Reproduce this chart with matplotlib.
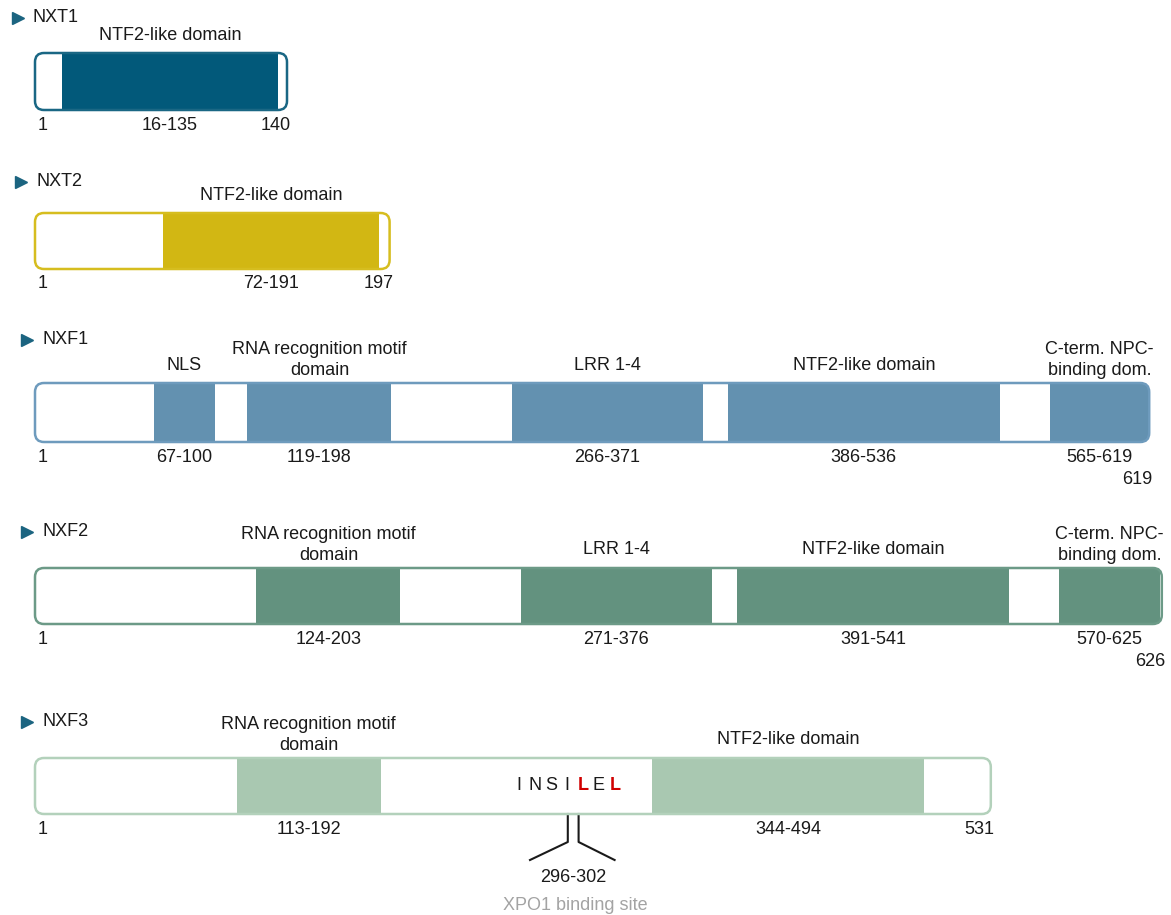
import numpy as np
from matplotlib import pyplot as plt
from matplotlib.patches import FancyBboxPatch, Rectangle

plt.rcParams["font.family"] = ["Liberation Sans", "DejaVu Sans"]

# Protein data (residue numbers)
PROTEINS = ["NXT1", "NXT2", "NXF1", "NXF2", "NXF3"]
LENGTHS = [140, 197, 619, 626, 531]
COLORS = ["#02597a", "#d2b713", "#6391b0", "#63927f", "#a9c8b1"]
EDGE_COLORS = ["#1a6784", "#d6bd1f", "#6e9bbd", "#6c9a87", "#b3d1bb"]

NXT1_DOMAINS = [(16, 135)]
NXT2_DOMAINS = [(72, 191)]
NXF1_DOMAINS = [(67, 100), (119, 198), (266, 371), (386, 536), (565, 619)]
NXF2_DOMAINS = [(124, 203), (271, 376), (391, 541), (570, 625)]
NXF3_DOMAINS = [(113, 192), (344, 494)]
DOMAINS = [NXT1_DOMAINS, NXT2_DOMAINS, NXF1_DOMAINS, NXF2_DOMAINS, NXF3_DOMAINS]

RRM = "RNA recognition motif\ndomain"
NTF2 = "NTF2-like domain"
CTERM = "C-term. NPC-\nbinding dom."
DOMAIN_NAMES = [
    [NTF2],
    [NTF2],
    ["NLS", RRM, "LRR 1-4", NTF2, CTERM],
    [RRM, "LRR 1-4", NTF2, CTERM],
    [RRM, NTF2],
]

XPO1_SITE = (296, 302)
XPO1_MOTIF = "INSILEL"
XPO1_KEY = [4, 6]  # highlighted leucines

# Layout (pixels, y grows downward)
PX_PER_RES = 1.8
X0_PX = 35
ROW_TOP = [53, 213, 383, 568, 758]
ROW_H = [57, 56, 59, 56, 56]
NAME_Y = [18, 182, 340, 532, 722]
NAME_X = [12, 15, 21, 21, 21]
LENGTH_ROW = [0, 0, 1, 1, 0]  # length label on second line when crowded

INK = "#1a1a1a"
ARROW = "#1b6480"
GREY = "#a3a3a3"
FS = 13


def res(px):
    return (px - X0_PX) / PX_PER_RES


fig = plt.figure(figsize=(11.71, 9.15), dpi=100)
ax = fig.add_axes([0, 0, 1, 1])
ax.set_xlim(res(0), res(1171))
ax.set_ylim(915, 0)
ax.axis("off")

for i, name in enumerate(PROTEINS):
    top, h, length = ROW_TOP[i], ROW_H[i], LENGTHS[i]

    # protein name with marker
    ax.plot([res(NAME_X[i] + 6)], [NAME_Y[i]], marker=">", ms=9, color=ARROW,
            mec=ARROW, ls="none")
    ax.text(res(NAME_X[i] + 21), NAME_Y[i], name, fontsize=FS, color=INK,
            ha="left", va="center")

    box = FancyBboxPatch((0, top), length, h,
                         boxstyle="round,pad=0,rounding_size=5",
                         mutation_aspect=PX_PER_RES, facecolor="white",
                         edgecolor="none", zorder=1)
    ax.add_patch(box)
    for (a, b), label in zip(DOMAINS[i], DOMAIN_NAMES[i]):
        rect = Rectangle((a - 1, top), b - a + 1, h, facecolor=COLORS[i],
                         edgecolor="none", zorder=2)
        ax.add_patch(rect)
        rect.set_clip_path(box)
        mid = (a - 1 + b) / 2
        if "\n" in label:
            ax.text(mid, top - 23, label, fontsize=FS, color=INK, ha="center",
                    va="center", linespacing=1.25)
        else:
            ax.text(mid, top - 18, label, fontsize=FS, color=INK, ha="center",
                    va="center")
        ax.text(mid, top + h + 15, f"{a}-{b}", fontsize=FS, color=INK,
                ha="center", va="center")
    outline = FancyBboxPatch((0, top), length, h,
                             boxstyle="round,pad=0,rounding_size=5",
                             mutation_aspect=PX_PER_RES, facecolor="none",
                             edgecolor=EDGE_COLORS[i], lw=1.8, zorder=3)
    ax.add_patch(outline)

    ax.text(1.5, top + h + 15, "1", fontsize=FS, color=INK, ha="left", va="center")
    ax.text(length + 2, top + h + 15 + 22 * LENGTH_ROW[i], str(length),
            fontsize=FS, color=INK, ha="right", va="center")

# XPO1 binding site on NXF3
top, h = ROW_TOP[4], ROW_H[4]
s0, s1 = XPO1_SITE
mid = (s0 + s1) / 2
step = 8.9
for k, ch in enumerate(XPO1_MOTIF):
    key = k in XPO1_KEY
    ax.text(mid - 3.5 + (k - 3) * step, top + h / 2, ch, fontsize=FS,
            color="#d00000" if key else INK, fontweight="bold" if key else "normal",
            ha="center", va="center", zorder=4)

ax.plot([s0, s0, s0 - 21], [top + h, top + h + 28, top + h + 46], color=INK, lw=1.5)
ax.plot([s1, s1, s1 + 20], [top + h, top + h + 28, top + h + 46], color=INK, lw=1.5)
ax.text(mid, top + h + 64, f"{s0}-{s1}", fontsize=FS, color=INK, ha="center", va="center")
ax.text(mid + 1, top + h + 91, "XPO1 binding site", fontsize=FS, color=GREY,
        ha="center", va="center")

fig.savefig("out.png", facecolor="white")
